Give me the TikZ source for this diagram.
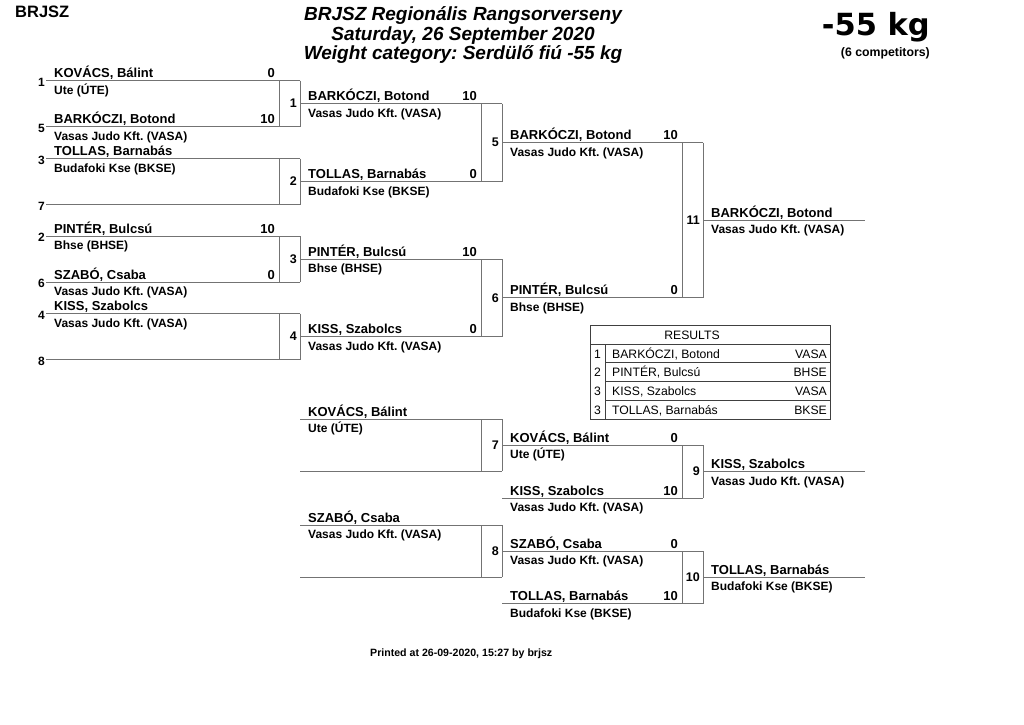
\documentclass[tikz,border=0pt]{standalone}
\usepackage{fontspec}
\setmainfont{Liberation Sans}
\newfontfamily\djv{DejaVu Sans}
\usetikzlibrary{calc}
\frenchspacing
\tikzset{
 bl/.style={draw=black!55, line width=0.9pt},
 tl/.style={draw=black!75, line width=0.9pt},
 nm/.style={font=\fontsize{13}{15}\selectfont\bfseries, inner sep=0pt, anchor=base west},
 cl/.style={font=\fontsize{12}{14}\selectfont\bfseries, inner sep=0pt, anchor=base west},
 sc/.style={font=\fontsize{13}{15}\selectfont\bfseries, inner sep=0pt, anchor=base east},
 sd/.style={font=\fontsize{12}{14}\selectfont\bfseries, inner sep=0pt, anchor=east},
 mn/.style={font=\fontsize{12.5}{14}\selectfont\bfseries, inner sep=0pt, anchor=east},
 rt/.style={font=\fontsize{12.2}{14}\selectfont, inner sep=0pt, anchor=base west},
 rc/.style={font=\fontsize{12.2}{14}\selectfont, inner sep=0pt, anchor=base east},
 ttl/.style={font=\fontsize{19}{21}\selectfont\bfseries\itshape, inner sep=0pt, anchor=base},
}
\newcommand\brslot[7]{%
  \coordinate (#1-l) at (#2,#4);
  \coordinate (#1-r) at (#3,#4);
  \draw[bl] (#1-l) -- (#1-r);
  \node[nm] (#1-n) at ([xshift=8pt,yshift=3pt]#1-l) {#5};
  \node[cl] (#1-c) at ([xshift=8pt,yshift=-13.5pt]#1-l) {#6};
  \node[sc] (#1-s) at ([xshift=-25pt,yshift=3pt]#1-r) {#7};
}
\newcommand\brmatch[4]{%
  \coordinate (#1-ti) at ([xshift=-21pt]#2-r);
  \coordinate (#1-bi) at ([xshift=-21pt]#3-r);
  \draw[bl] (#1-ti) -- (#1-bi);
  \draw[bl] (#2-r) -- (#3-r);
  \node[mn] (#1) at ($(#2-r)!0.5!(#3-r)+(-3pt,0)$) {#4};
}
\newcommand\brseed[2]{%
  \node[sd] (seed#2) at ([xshift=-1pt,yshift=-1.5pt]#1-l) {#2};
}
\begin{document}
\begin{tikzpicture}[x=1pt,y=-1pt]
\useasboundingbox (0,0) rectangle (1024,724);
% header
\node[font=\fontsize{16.5}{18}\selectfont\bfseries, inner sep=0pt, anchor=base west] (org) at (15,17) {BRJSZ};
\node[ttl] (t1) at (463,20) {BRJSZ Regionális Rangsorverseny};
\node[ttl] (t2) at (463,40) {Saturday, 26 September 2020};
\node[ttl] (t3) at (463,59.5) {Weight category: Serdülő fiú -55 kg};
\node[font=\djv\fontsize{30.5}{32}\selectfont\bfseries, inner sep=0pt, anchor=base east] (kg) at (930,35) {-55 kg};
\node[font=\fontsize{12.3}{14}\selectfont\bfseries, inner sep=0pt, anchor=base east] (cnt) at (930,56) {(6 competitors)};
% round 1
\brslot{a1}{46}{300}{80.5}{KOVÁCS, Bálint}{Ute (ÚTE)}{0}
\brslot{a2}{46}{300}{126.5}{BARKÓCZI, Botond}{Vasas Judo Kft. (VASA)}{10}
\brslot{a3}{46}{300}{158.5}{TOLLAS, Barnabás}{Budafoki Kse (BKSE)}{}
\brslot{a4}{46}{300}{204.5}{}{}{}
\brslot{a5}{46}{300}{236}{PINTÉR, Bulcsú}{Bhse (BHSE)}{10}
\brslot{a6}{46}{300}{282}{SZABÓ, Csaba}{Vasas Judo Kft. (VASA)}{0}
\brslot{a7}{46}{300}{313.5}{KISS, Szabolcs}{Vasas Judo Kft. (VASA)}{}
\brslot{a8}{46}{300}{359.5}{}{}{}
\brseed{a1}{1}\brseed{a2}{5}\brseed{a3}{3}\brseed{a4}{7}
\brseed{a5}{2}\brseed{a6}{6}\brseed{a7}{4}\brseed{a8}{8}
\brmatch{m1}{a1}{a2}{1}
\brmatch{m2}{a3}{a4}{2}
\brmatch{m3}{a5}{a6}{3}
\brmatch{m4}{a7}{a8}{4}
% round 2
\brslot{b1}{300}{502}{103.5}{BARKÓCZI, Botond}{Vasas Judo Kft. (VASA)}{10}
\brslot{b2}{300}{502}{181.5}{TOLLAS, Barnabás}{Budafoki Kse (BKSE)}{0}
\brslot{b3}{300}{502}{259}{PINTÉR, Bulcsú}{Bhse (BHSE)}{10}
\brslot{b4}{300}{502}{336.5}{KISS, Szabolcs}{Vasas Judo Kft. (VASA)}{0}
\brmatch{m5}{b1}{b2}{5}
\brmatch{m6}{b3}{b4}{6}
% round 3
\brslot{c1}{502}{703}{142.5}{BARKÓCZI, Botond}{Vasas Judo Kft. (VASA)}{10}
\brslot{c2}{502}{703}{297.75}{PINTÉR, Bulcsú}{Bhse (BHSE)}{0}
\brmatch{m11}{c1}{c2}{11}
% final
\brslot{d1}{703}{865}{220.1}{BARKÓCZI, Botond}{Vasas Judo Kft. (VASA)}{}
% repechage
\brslot{e1}{300}{502}{419}{KOVÁCS, Bálint}{Ute (ÚTE)}{}
\brslot{e2}{300}{502}{471}{}{}{}
\brslot{e3}{300}{502}{525}{SZABÓ, Csaba}{Vasas Judo Kft. (VASA)}{}
\brslot{e4}{300}{502}{577}{}{}{}
\brmatch{m7}{e1}{e2}{7}
\brmatch{m8}{e3}{e4}{8}
\brslot{f1}{502}{703}{445}{KOVÁCS, Bálint}{Ute (ÚTE)}{0}
\brslot{f2}{502}{703}{498}{KISS, Szabolcs}{Vasas Judo Kft. (VASA)}{10}
\brslot{f3}{502}{703}{551}{SZABÓ, Csaba}{Vasas Judo Kft. (VASA)}{0}
\brslot{f4}{502}{703}{603.5}{TOLLAS, Barnabás}{Budafoki Kse (BKSE)}{10}
\brmatch{m9}{f1}{f2}{9}
\brmatch{m10}{f3}{f4}{10}
\brslot{g1}{703}{865}{471.5}{KISS, Szabolcs}{Vasas Judo Kft. (VASA)}{}
\brslot{g2}{703}{865}{577.25}{TOLLAS, Barnabás}{Budafoki Kse (BKSE)}{}
% results table
\draw[tl] (590,325) rectangle (830.7,419);
\draw[tl] (590,344) -- (830.7,344);
\draw[tl] (605,344) -- (605,419);
\foreach \yy in {362.7,381.5,400.2} \draw[tl] (605,\yy) -- (830.7,\yy);
\node[font=\fontsize{12.2}{14}\selectfont, inner sep=0pt, anchor=base] (res) at (692,339) {RESULTS};
\node[rt] (r1) at (594,358) {1};
\node[rt] (r1n) at (612,358) {BARKÓCZI, Botond};
\node[rc] (r1c) at (827,358) {VASA};
\node[rt] (r2) at (594,376.7) {2};
\node[rt] (r2n) at (612,376.7) {PINTÉR, Bulcsú};
\node[rc] (r2c) at (827,376.7) {BHSE};
\node[rt] (r3) at (594,395.4) {3};
\node[rt] (r3n) at (612,395.4) {KISS, Szabolcs};
\node[rc] (r3c) at (827,395.4) {VASA};
\node[rt] (r4) at (594,414) {3};
\node[rt] (r4n) at (612,414) {TOLLAS, Barnabás};
\node[rc] (r4c) at (827,414) {BKSE};
% footer
\node[font=\fontsize{10.6}{12}\selectfont\bfseries, inner sep=0pt, anchor=base west] (prn) at (370,656) {Printed at 26-09-2020, 15:27 by brjsz};
\end{tikzpicture}
\end{document}
